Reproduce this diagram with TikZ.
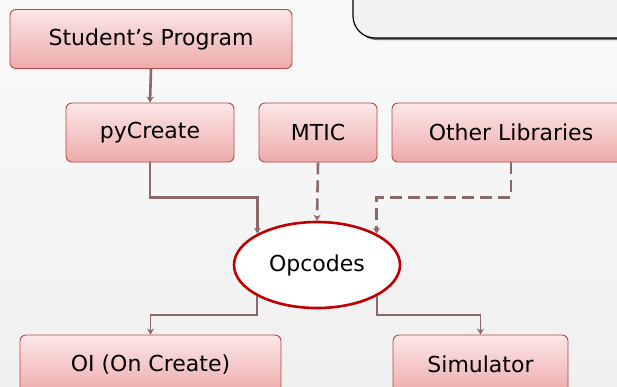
\documentclass[tikz,border=0pt]{standalone}
\usepackage{fontspec}
\setmainfont{DejaVu Sans}
\usetikzlibrary{shapes.geometric,arrows.meta}

\definecolor{boxtop}{HTML}{FBE7E7}
\definecolor{boxbot}{HTML}{EEAAAA}
\definecolor{boxline}{HTML}{B54545}
\definecolor{conn}{HTML}{8C6868}
\definecolor{ovalline}{HTML}{C00000}
\definecolor{panel}{HTML}{F2F2F2}

\begin{document}
\begin{tikzpicture}
		[x=1pt,y=-1pt,
		block/.style ={rectangle, draw=boxline, line width=0.9pt, top color=boxtop, bottom color=boxbot, rounded corners=6pt, minimum height=59pt, inner sep=0pt, font=\fontsize{22}{26}\selectfont},
		oval/.style ={ellipse, draw=ovalline, line width=2.6pt, fill=white, minimum width=166pt, minimum height=86pt, inner sep=0pt, font=\fontsize{22}{26}\selectfont},
		line/.style ={draw=conn, line width=2.6pt, -{Stealth[length=6pt,width=7pt]}},
		dline/.style ={line, dash pattern=on 12pt off 6pt},
		thinline/.style ={line, line width=1.8pt},
		]
		\useasboundingbox (0,0) rectangle (617,386);
		\clip (0,0) rectangle (617,386);
		\shade[top color=white!98!black, bottom color=white!94!black] (0,0) rectangle (617,386);

		% panel at the top right
		\fill[black!55, rounded corners=22pt] (355,-30) rectangle (662,40);
		\draw[black, line width=1.2pt, fill=panel, rounded corners=22pt] (353,-30) rectangle (660,38);

		\draw (151,39) node[block, minimum width=282pt] (SP) {Student’s Program};
		\draw (150,132.5) node[block, minimum width=168pt] (PC) {pyCreate};
		\draw (318,132.5) node[block, minimum width=118pt] (MT) {MTIC};
		\draw (511,132.5) node[block, minimum width=238pt] (OL) {Other Libraries};
		\draw (317,265) node[oval] (OP) {Opcodes};
		\draw (150.5,364.5) node[block, minimum width=261pt] (OI) {OI (On Create)};
		\draw (480.5,364.5) node[block, minimum width=175pt] (SI) {Simulator};

		\draw[line] (SP.south) -- (PC.north);
		\draw[line] (PC.south) -- ++(0,35) -| (OP.north west);
		\draw[dline] (MT.south) -- (OP.north);
		\draw[dline] (OL.south) -- ++(0,35) -| (OP.north east);
		\draw[thinline] (OP.south west) -- ++(0,19) -| (OI.north);
		\draw[thinline] (OP.south east) -- ++(0,19) -| (SI.north);
	\end{tikzpicture}
\end{document}
